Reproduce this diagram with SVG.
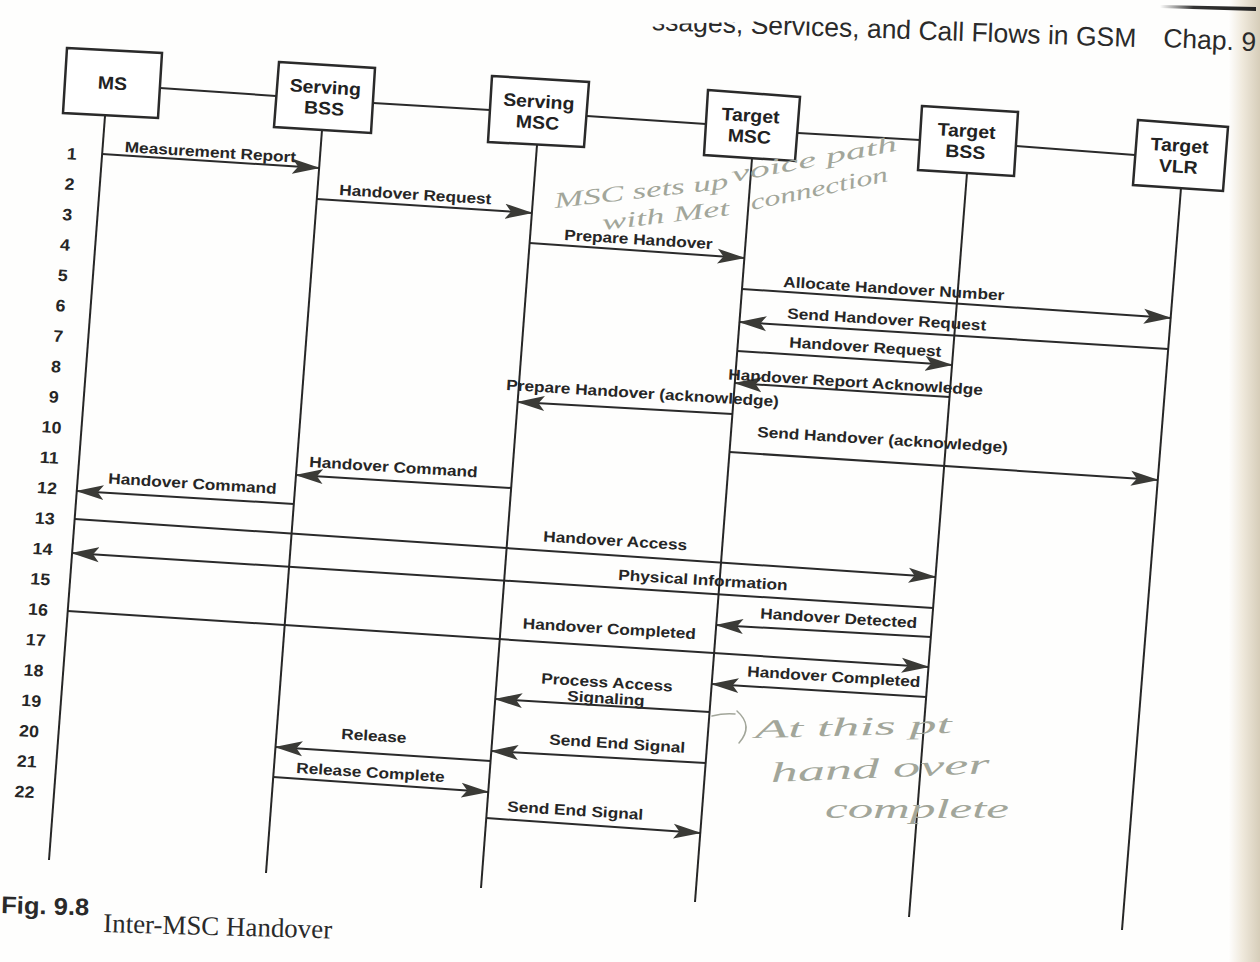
<svg xmlns="http://www.w3.org/2000/svg" width="1260" height="962" viewBox="0 0 1260 962">
<style>
.box{fill:#fff;stroke:#2a2a2a;stroke-width:2.5;stroke-linejoin:miter}
.ll{stroke:#262626;stroke-width:2;fill:none}
.link{stroke:#2a2a2a;stroke-width:2;fill:none}
.msg{stroke:#2a2a2a;stroke-width:2;fill:none;marker-end:url(#ah)}
.nt{font-family:"Liberation Sans",Arial,sans-serif;font-weight:bold;font-size:18px;fill:#222;text-anchor:middle}
.lbl{font-family:"Liberation Sans",Arial,sans-serif;font-weight:bold;font-size:15px;fill:#262626}
.num{font-family:"Liberation Sans",Arial,sans-serif;font-weight:bold;font-size:16.5px;fill:#262626;text-anchor:middle}
.hdr{font-family:"Liberation Sans",Arial,sans-serif;font-size:26.5px;fill:#2a2a2a}
.hw{font-family:"Liberation Serif","DejaVu Serif",serif;font-style:italic;fill:#a2a69a}
.hwline{stroke:#a2a69a;stroke-width:1.5;fill:none;stroke-linecap:round}
</style>
<defs>
<marker id="ah" viewBox="0 0 28 16" refX="27" refY="8" markerWidth="28" markerHeight="16" markerUnits="userSpaceOnUse" orient="auto">
<path d="M0,0.5 L28,8 L0,15.5 L6,8 Z" fill="#3a3a36"/>
</marker>
<linearGradient id="edge" x1="0" y1="0" x2="1" y2="0">
<stop offset="0" stop-color="#ffffff"/>
<stop offset="0.45" stop-color="#efe9dc"/>
<stop offset="1" stop-color="#d6cdb9"/>
</linearGradient>
<linearGradient id="rule" x1="0" y1="0" x2="1" y2="0">
<stop offset="0" stop-color="#333" stop-opacity="0"/>
<stop offset="0.35" stop-color="#333" stop-opacity="1"/>
<stop offset="1" stop-color="#222" stop-opacity="1"/>
</linearGradient>
</defs>
<rect x="0" y="0" width="1260" height="962" fill="#fefefd"/>
<rect x="1228" y="0" width="32" height="962" fill="url(#edge)"/>

<g id="page-header">
<text class="hdr" text-anchor="end" transform="translate(1136 47) rotate(2)">ssages, Services, and Call Flows in GSM</text>
<polygon points="600,0 840,0 840,19 600,26" fill="#fefefd"/>
<text class="hdr" transform="translate(1163 47) rotate(2.5)">Chap. 9</text>
<polygon points="1160,5 1256,7 1256,11 1160,8" fill="url(#rule)"/>
</g>

<g id="connectors">
<line class="link" x1="160" y1="88" x2="276" y2="96"/>
<line class="link" x1="373" y1="103" x2="490" y2="110"/>
<line class="link" x1="587" y1="116" x2="706" y2="124"/>
<line class="link" x1="798" y1="133" x2="920" y2="140"/>
<line class="link" x1="1016" y1="146" x2="1135" y2="155"/>

<line class="msg" x1="102.1" y1="154" x2="319.1" y2="168"/>
<line class="msg" x1="316.8" y1="199" x2="532" y2="213"/>
<line class="msg" x1="529.6" y1="243" x2="744.4" y2="258"/>
<line class="msg" x1="742" y1="289" x2="1170.7" y2="318"/>
<line class="msg" x1="1168.2" y1="349" x2="739.5" y2="322"/>
<line class="msg" x1="737.2" y1="351" x2="952" y2="365"/>
<line class="msg" x1="949.5" y1="397" x2="734.8" y2="383"/>
<line class="msg" x1="732.4" y1="414" x2="517.6" y2="402"/>
<line class="msg" x1="729.5" y1="452" x2="1157.8" y2="480"/>
<line class="msg" x1="511.1" y1="488" x2="296" y2="475"/>
<line class="msg" x1="293.8" y1="504" x2="76.8" y2="491"/>
<line class="msg" x1="74.7" y1="519" x2="935.5" y2="577"/>
<line class="msg" x1="933.1" y1="608" x2="72.1" y2="553"/>
<line class="msg" x1="67.7" y1="611" x2="928.5" y2="667"/>
<line class="msg" x1="930.8" y1="637" x2="716.2" y2="625"/>
<line class="msg" x1="926.2" y1="697" x2="711.7" y2="684"/>
<line class="msg" x1="709.6" y1="712" x2="495.3" y2="699"/>
<line class="msg" x1="705.7" y1="763" x2="491.3" y2="751"/>
<line class="msg" x1="490.6" y1="761" x2="275.5" y2="747"/>
<line class="msg" x1="273.2" y1="777" x2="488.2" y2="792"/>
<line class="msg" x1="486.3" y1="818" x2="700.3" y2="833"/>
</g>

<g id="node-ms">
<line class="ll" x1="105" y1="116" x2="49" y2="860"/>
<polygon class="box" points="67,48 162,53 158,118 63,113"/>
<text class="nt" transform="translate(112.5 83) rotate(3.5) scale(1.08 1)" y="6.5">MS</text>
</g>
<g id="node-serving-bss">
<line class="ll" x1="322" y1="130" x2="266" y2="873"/>
<polygon class="box" points="279,62 375,68 371,133 274,127"/>
<text class="nt" transform="translate(324.7 97.5) rotate(3.5) scale(1.08 1)"><tspan x="0" y="-4">Serving</tspan><tspan x="0" y="17">BSS</tspan></text>
</g>
<g id="node-serving-msc">
<line class="ll" x1="537" y1="145" x2="481" y2="888"/>
<polygon class="box" points="492,76 589,82 584,147 488,142"/>
<text class="nt" transform="translate(538.2 111.7) rotate(3.5) scale(1.08 1)"><tspan x="0" y="-4">Serving</tspan><tspan x="0" y="17">MSC</tspan></text>
</g>
<g id="node-target-msc">
<line class="ll" x1="752" y1="158.5" x2="695" y2="902"/>
<polygon class="box" points="708,90 800,97 795,161 704,155"/>
<text class="nt" transform="translate(750 125.7) rotate(3.5) scale(1.08 1)"><tspan x="0" y="-4">Target</tspan><tspan x="0" y="17">MSC</tspan></text>
</g>
<g id="node-target-bss">
<line class="ll" x1="967" y1="173" x2="909" y2="917"/>
<polygon class="box" points="922,106 1018,112 1014,176 918,170"/>
<text class="nt" transform="translate(966 141) rotate(3.5) scale(1.08 1)"><tspan x="0" y="-4">Target</tspan><tspan x="0" y="17">BSS</tspan></text>
</g>
<g id="node-target-vlr">
<line class="ll" x1="1181" y1="188" x2="1122" y2="930"/>
<polygon class="box" points="1138,120 1228,127 1223,191 1133,185"/>
<text class="nt" transform="translate(1179 155.7) rotate(3.5) scale(1.08 1)"><tspan x="0" y="-4">Target</tspan><tspan x="0" y="17">VLR</tspan></text>
</g>

<g id="message-labels">
<text class="lbl" transform="translate(124.5 152) rotate(3.5) scale(1.15 1)">Measurement Report</text>
<text class="lbl" transform="translate(339 195) rotate(3.5) scale(1.15 1)">Handover Request</text>
<text class="lbl" transform="translate(564 240) rotate(3.5) scale(1.15 1)">Prepare Handover</text>
<text class="lbl" transform="translate(783 287) rotate(3.5) scale(1.15 1)">Allocate Handover Number</text>
<text class="lbl" transform="translate(787 318.5) rotate(3.5) scale(1.15 1)">Send Handover Request</text>
<text class="lbl" transform="translate(789 347.5) rotate(3.5) scale(1.15 1)">Handover Request</text>
<text class="lbl" transform="translate(728 379.5) rotate(3.5) scale(1.15 1)">Handover Report Acknowledge</text>
<text class="lbl" transform="translate(506 390) rotate(3.5) scale(1.15 1)">Prepare Handover (acknowledge)</text>
<text class="lbl" transform="translate(757 437) rotate(3.5) scale(1.15 1)">Send Handover (acknowledge)</text>
<text class="lbl" transform="translate(309 467) rotate(3.5) scale(1.15 1)">Handover Command</text>
<text class="lbl" transform="translate(108 483.5) rotate(3.5) scale(1.15 1)">Handover Command</text>
<text class="lbl" transform="translate(543 541.5) rotate(3.5) scale(1.15 1)">Handover Access</text>
<text class="lbl" transform="translate(618 580) rotate(3.5) scale(1.15 1)">Physical Information</text>
<text class="lbl" transform="translate(760 618.5) rotate(3.5) scale(1.15 1)">Handover Detected</text>
<text class="lbl" transform="translate(522.5 628.5) rotate(3.5) scale(1.15 1)">Handover Completed</text>
<text class="lbl" transform="translate(747 676.5) rotate(3.5) scale(1.15 1)">Handover Completed</text>
<text class="lbl" text-anchor="middle" transform="translate(606.6 687.5) rotate(3.5) scale(1.15 1)"><tspan x="0" y="0">Process Access</tspan><tspan x="0" y="16">Signaling</tspan></text>
<text class="lbl" transform="translate(341 739) rotate(3.5) scale(1.15 1)">Release</text>
<text class="lbl" transform="translate(549 744.5) rotate(3.5) scale(1.15 1)">Send End Signal</text>
<text class="lbl" transform="translate(296 773) rotate(3.5) scale(1.15 1)">Release Complete</text>
<text class="lbl" transform="translate(507 811.5) rotate(3.5) scale(1.15 1)">Send End Signal</text>
</g>

<g id="step-numbers">
<text class="num" transform="translate(71.5 159.5) rotate(3.5) scale(1.08 1)">1</text>
<text class="num" transform="translate(69.25 189.9) rotate(3.5) scale(1.08 1)">2</text>
<text class="num" transform="translate(67 220.3) rotate(3.5) scale(1.08 1)">3</text>
<text class="num" transform="translate(64.75 250.6) rotate(3.5) scale(1.08 1)">4</text>
<text class="num" transform="translate(62.5 281) rotate(3.5) scale(1.08 1)">5</text>
<text class="num" transform="translate(60.25 311.4) rotate(3.5) scale(1.08 1)">6</text>
<text class="num" transform="translate(58 341.8) rotate(3.5) scale(1.08 1)">7</text>
<text class="num" transform="translate(55.75 372.2) rotate(3.5) scale(1.08 1)">8</text>
<text class="num" transform="translate(53.5 402.5) rotate(3.5) scale(1.08 1)">9</text>
<text class="num" transform="translate(51.25 432.9) rotate(3.5) scale(1.08 1)">10</text>
<text class="num" transform="translate(49 463.3) rotate(3.5) scale(1.08 1)">11</text>
<text class="num" transform="translate(46.75 493.7) rotate(3.5) scale(1.08 1)">12</text>
<text class="num" transform="translate(44.5 524.1) rotate(3.5) scale(1.08 1)">13</text>
<text class="num" transform="translate(42.25 554.5) rotate(3.5) scale(1.08 1)">14</text>
<text class="num" transform="translate(40 584.8) rotate(3.5) scale(1.08 1)">15</text>
<text class="num" transform="translate(37.75 615.2) rotate(3.5) scale(1.08 1)">16</text>
<text class="num" transform="translate(35.5 645.6) rotate(3.5) scale(1.08 1)">17</text>
<text class="num" transform="translate(33.25 676) rotate(3.5) scale(1.08 1)">18</text>
<text class="num" transform="translate(31 706.4) rotate(3.5) scale(1.08 1)">19</text>
<text class="num" transform="translate(28.75 736.8) rotate(3.5) scale(1.08 1)">20</text>
<text class="num" transform="translate(26.5 767.1) rotate(3.5) scale(1.08 1)">21</text>
<text class="num" transform="translate(24.25 797.5) rotate(3.5) scale(1.08 1)">22</text>
</g>

<g id="handwritten-notes">
<text class="hw" font-size="22" textLength="175" lengthAdjust="spacingAndGlyphs" transform="translate(555 208) rotate(-6.5)">MSC sets up</text>
<text class="hw" font-size="22" textLength="168" lengthAdjust="spacingAndGlyphs" transform="translate(733 182) rotate(-10.8)">voice path</text>
<text class="hw" font-size="22" textLength="128" lengthAdjust="spacingAndGlyphs" transform="translate(603 230) rotate(-6.7)">with Met</text>
<text class="hw" font-size="22" textLength="140" lengthAdjust="spacingAndGlyphs" transform="translate(752 210) rotate(-12)">connection</text>
<path class="hwline" d="M712,716 Q724,713 735,714 M737,711 Q754,726 739,743"/>
<text class="hw" font-size="26" textLength="197" lengthAdjust="spacingAndGlyphs" transform="translate(755 738) rotate(-1.5)">At this pt</text>
<text class="hw" font-size="28" textLength="219" lengthAdjust="spacingAndGlyphs" transform="translate(771 782) rotate(-2.3)">hand over</text>
<text class="hw" font-size="28" textLength="184" lengthAdjust="spacingAndGlyphs" transform="translate(825 818)">complete</text>
</g>

<g id="caption">
<text font-family="'Liberation Sans',Arial,sans-serif" font-weight="bold" font-size="24" fill="#2a2a2a" textLength="88" lengthAdjust="spacingAndGlyphs" transform="translate(1 913) rotate(1.6)">Fig. 9.8</text>
<text font-family="'Liberation Serif','Times New Roman',serif" font-size="27" fill="#2a2a2a" textLength="229" lengthAdjust="spacingAndGlyphs" transform="translate(103 932) rotate(1.6)">Inter-MSC Handover</text>
</g>
</svg>
